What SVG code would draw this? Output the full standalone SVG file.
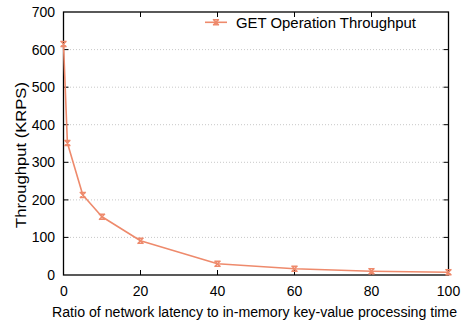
<svg xmlns="http://www.w3.org/2000/svg" width="466" height="322" viewBox="0 0 466 322">
  <style>
    .lbl { font-family: "Liberation Sans", Arial, sans-serif; font-size: 14px; fill: #000; }
    .grid { stroke: #c8c8c8; stroke-width: 1; stroke-dasharray: 1 2; fill: none; }
    .tick { stroke: #000; stroke-width: 1; }
    .series { stroke: #ee8a6c; stroke-width: 1.6; fill: none; stroke-linejoin: round; }
  </style>
  <defs>
    <g id="pt">
      <path d="M-3,-3 L3,3 M-3,3 L3,-3 M-3,-2.5 L3,-2.5 M-3,2.5 L3,2.5" stroke="#ee8a6c" stroke-width="1.4" fill="none"/>
    </g>
  </defs>
  <rect width="466" height="322" fill="#fff"/>

  <!-- horizontal grid -->
  <g id="grid">
    <line class="grid" x1="64" y1="237.4" x2="448" y2="237.4"/>
    <line class="grid" x1="64" y1="199.9" x2="448" y2="199.9"/>
    <line class="grid" x1="64" y1="162.3" x2="448" y2="162.3"/>
    <line class="grid" x1="64" y1="124.7" x2="448" y2="124.7"/>
    <line class="grid" x1="64" y1="87.2" x2="448" y2="87.2"/>
    <line class="grid" x1="64" y1="49.6" x2="448" y2="49.6"/>
  </g>

  <!-- ticks (mirrored on all sides) -->
  <g id="ticks">
    <path class="tick" d="M63.5,237.4h5M63.5,199.9h5M63.5,162.3h5M63.5,124.7h5M63.5,87.2h5M63.5,49.6h5
      M448.5,237.4h-5M448.5,199.9h-5M448.5,162.3h-5M448.5,124.7h-5M448.5,87.2h-5M448.5,49.6h-5
      M140.5,275v-5M217.5,275v-5M294.5,275v-5M371.5,275v-5
      M140.5,12v5M217.5,12v5M294.5,12v5M371.5,12v5"/>
  </g>

  <!-- axis frame -->
  <rect id="frame" x="63.5" y="12" width="385" height="263" fill="none" stroke="#000" stroke-width="1.3"/>

  <!-- y tick labels -->
  <g id="ylabels" class="lbl" text-anchor="end">
    <text x="55" y="280">0</text>
    <text x="55" y="242.4">100</text>
    <text x="55" y="204.9">200</text>
    <text x="55" y="167.3">300</text>
    <text x="55" y="129.7">400</text>
    <text x="55" y="92.2">500</text>
    <text x="55" y="54.6">600</text>
    <text x="55" y="17">700</text>
  </g>

  <!-- x tick labels -->
  <g id="xlabels" class="lbl" text-anchor="middle">
    <text x="64" y="295.5">0</text>
    <text x="140.5" y="295.5">20</text>
    <text x="217.5" y="295.5">40</text>
    <text x="294.5" y="295.5">60</text>
    <text x="371.5" y="295.5">80</text>
    <text x="448.5" y="295.5">100</text>
  </g>

  <!-- axis titles -->
  <text id="xtitle" class="lbl" x="52" y="316.5" textLength="405" lengthAdjust="spacingAndGlyphs">Ratio of network latency to in-memory key-value processing time</text>
  <text id="ytitle" class="lbl" x="0" y="0" text-anchor="middle" textLength="146" lengthAdjust="spacingAndGlyphs" transform="translate(25.5,155) rotate(-90)">Throughput (KRPS)</text>

  <!-- series -->
  <g id="series">
    <polyline class="series" points="63.5,44 67.4,143 82.8,195 102,216.7 140.5,240.7 217.5,263.7 294.5,268.7 371.5,271.3 448.5,272.3"/>
    <use href="#pt" x="63.5" y="44"/>
    <use href="#pt" x="67.4" y="143"/>
    <use href="#pt" x="82.8" y="195"/>
    <use href="#pt" x="102" y="216.7"/>
    <use href="#pt" x="140.5" y="240.7"/>
    <use href="#pt" x="217.5" y="263.7"/>
    <use href="#pt" x="294.5" y="268.7"/>
    <use href="#pt" x="371.5" y="271.3"/>
    <use href="#pt" x="448.5" y="272.3"/>
  </g>

  <!-- legend -->
  <g id="legend">
    <line class="series" x1="205" y1="22.3" x2="227" y2="22.3"/>
    <use href="#pt" x="216" y="22.3"/>
    <text class="lbl" x="236" y="28" textLength="180" lengthAdjust="spacingAndGlyphs">GET Operation Throughput</text>
  </g>
</svg>
